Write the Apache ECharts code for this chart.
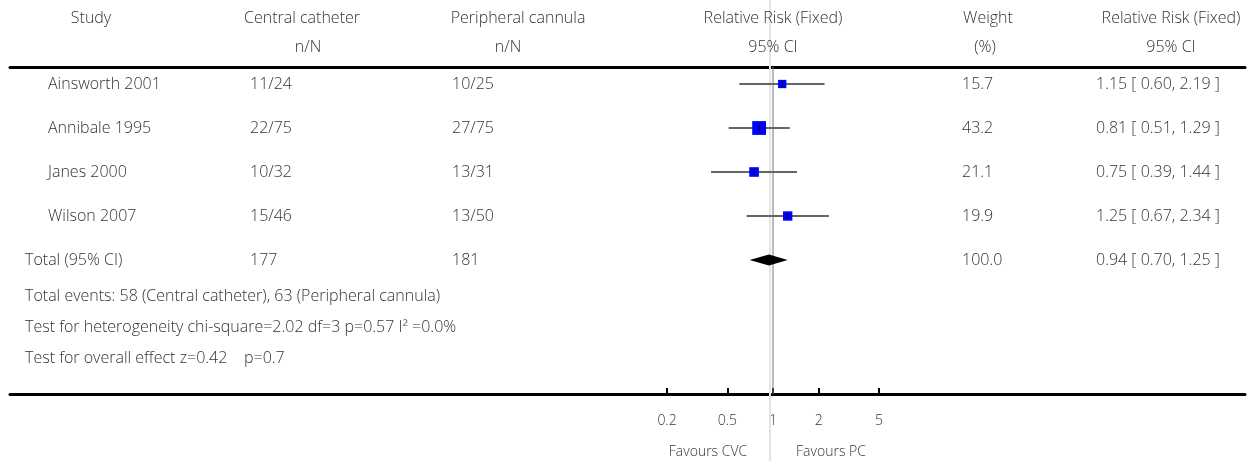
<!DOCTYPE html>
<html><head><meta charset="utf-8">
<script src="https://cdn.jsdelivr.net/npm/echarts@6/dist/echarts.min.js"></script>
<style>html,body{margin:0;padding:0;background:#fff}#c{width:1252px;height:461px}</style>
</head><body><div id="c"></div>
<script>
// ---- data ----
const studies = ['Ainsworth 2001', 'Annibale 1995', 'Janes 2000', 'Wilson 2007'];
const cvcCounts = ['11/24', '22/75', '10/32', '15/46'];
const pcCounts = ['10/25', '27/75', '13/31', '13/50'];
const weights = [15.7, 43.2, 21.1, 19.9];
const rrEst = [1.15, 0.81, 0.75, 1.25];
const rrLo = [0.60, 0.51, 0.39, 0.67];
const rrHi = [2.19, 1.29, 1.44, 2.34];
const totalRow = ['Total (95% CI)', '177', '181', '100.0'];
const totalRR = [0.94, 0.70, 1.25];
const tickValues = [0.2, 0.5, 1, 2, 5];
const headerRow1 = ['Study', 'Central catheter', 'Peripheral cannula', 'Relative Risk (Fixed)', 'Weight', 'Relative Risk (Fixed)'];
const headerRow2 = ['', 'n/N', 'n/N', '95% CI', '(%)', '95% CI'];
const footnotes = [
  'Total events: 58 (Central catheter), 63 (Peripheral cannula)',
  'Test for heterogeneity chi-square=2.02 df=3 p=0.57 I\u00B2 =0.0%',
  'Test for overall effect z=0.42    p=0.7'
];
const favours = ['Favours CVC', 'Favours PC'];

// ---- layout ----
const W = 1252, H = 461;
const gridL = 10, gridR = 1245, gridT = 67, gridB = 394;
const x1px = 773, pxPerDecade = 151.6;
const row0 = 84, rowH = 44;
const xMin = Math.pow(10, -(x1px - gridL) / pxPerDecade);
const xMax = Math.pow(10, (gridR - x1px) / pxPerDecade);
const yMin = -(row0 - gridT) / rowH;
const yMax = (gridB - row0) / rowH;
const FAM = '"Open Sans", Lato, sans-serif';
const FONT = '300 16px ' + FAM;
const SMALL = '300 14px ' + FAM;
const TXT = '#333';

const fmt = v => v.toFixed(2);
const ciText = (e, l, h) => fmt(e) + ' [ ' + fmt(l) + ', ' + fmt(h) + ' ]';

const studyData = studies.map((s, i) => [rrLo[i], rrHi[i], rrEst[i], i, weights[i]]);
const totalData = [[totalRR[1], totalRR[2], totalRR[0], studies.length]];

const chart = echarts.init(document.getElementById('c'), null, {renderer: 'canvas'});
chart.setOption({
  animation: false,
  backgroundColor: '#fff',
  grid: {left: gridL, right: W - gridR, top: gridT, bottom: H - gridB, containLabel: false},
  xAxis: [{
    type: 'log', logBase: 10, min: xMin, max: xMax, position: 'bottom',
    axisLine: {show: true, onZero: false, lineStyle: {color: '#000', width: 3}},
    axisTick: {show: true, inside: true, length: 6, lineStyle: {color: '#000', width: 2}, customValues: tickValues},
    axisLabel: {show: true, margin: 20, color: TXT, fontSize: 14, fontWeight: 300, fontFamily: FAM,
      customValues: tickValues, formatter: v => String(v)},
    splitLine: {show: false}, minorTick: {show: false}
  }, {
    type: 'log', logBase: 10, min: xMin, max: xMax, position: 'top',
    axisLine: {show: true, onZero: false, lineStyle: {color: '#000', width: 3}},
    axisTick: {show: false}, axisLabel: {show: false}, splitLine: {show: false}
  }],
  yAxis: {type: 'value', min: yMin, max: yMax, inverse: true, show: false, splitLine: {show: false}},
  series: [{
    type: 'custom', data: studyData, z: 5,
    renderItem: (params, api) => {
      const y = api.coord([1, api.value(3)])[1];
      const xl = api.coord([api.value(0), 0])[0];
      const xh = api.coord([api.value(1), 0])[0];
      const xe = api.coord([api.value(2), 0])[0];
      const s = Math.sqrt(api.value(4)) * 2.1;
      return {type: 'group', children: [
        {type: 'line', shape: {x1: xl, y1: y, x2: xh, y2: y}, style: {stroke: '#666', lineWidth: 2}},
        {type: 'rect', shape: {x: xe - s / 2, y: y - s / 2, width: s, height: s}, style: {fill: '#0000ff'}},
        {type: 'line', shape: {x1: xe, y1: y - 3, x2: xe, y2: y + 3}, style: {stroke: '#000', lineWidth: 1}}
      ]};
    }
  }, {
    type: 'custom', data: totalData, z: 5,
    renderItem: (params, api) => {
      const y = api.coord([1, api.value(3)])[1];
      const xl = api.coord([api.value(0), 0])[0];
      const xh = api.coord([api.value(1), 0])[0];
      const xe = api.coord([api.value(2), 0])[0];
      const h = 5.5;
      return {type: 'polygon', shape: {points: [[xl, y], [xe, y - h], [xh, y], [xe, y + h]]}, style: {fill: '#000'}};
    }
  }]
});

// ---- text & reference lines ----
const rowY = i => chart.convertToPixel({yAxisIndex: 0}, i);
const x1 = chart.convertToPixel({xAxisIndex: 0}, 1);
const g = [];
const txt = (t, x, y, align, font) => g.push({type: 'text', x: x, y: y, z: 10,
  style: {text: t, textAlign: align || 'left', textVerticalAlign: 'middle', font: font || FONT, fill: TXT}});

g.push({type: 'line', z: 1, shape: {x1: x1 - 3, y1: 0, x2: x1 - 3, y2: H}, style: {stroke: '#e4e4e4', lineWidth: 2}});
g.push({type: 'line', z: 2, shape: {x1: x1, y1: gridT, x2: x1, y2: gridB}, style: {stroke: '#777', lineWidth: 1}});

const hdrX = [91, 302, 518, 773, 988, 1171];
const hdr2X = [91, 308, 508, 773, 985, 1171];
headerRow1.forEach((t, i) => txt(t, hdrX[i], 18, 'center'));
headerRow2.forEach((t, i) => { if (t) txt(t, hdr2X[i], 47, 'center'); });

studies.forEach((s, i) => {
  const y = rowY(i);
  txt(s, 48, y);
  txt(cvcCounts[i], 250, y);
  txt(pcCounts[i], 452, y);
  txt(weights[i].toFixed(1), 962, y);
  txt(ciText(rrEst[i], rrLo[i], rrHi[i]), 1096, y);
});
const ty = rowY(studies.length);
txt(totalRow[0], 25, ty);
txt(totalRow[1], 250, ty);
txt(totalRow[2], 452, ty);
txt(totalRow[3], 962, ty);
txt(ciText(totalRR[0], totalRR[1], totalRR[2]), 1096, ty);
footnotes.forEach((t, i) => txt(t, 25, 296 + 31 * i));
txt(favours[0], 708, 452, 'center', SMALL);
txt(favours[1], 831, 452, 'center', SMALL);
chart.setOption({graphic: g});
</script>
</body></html>
